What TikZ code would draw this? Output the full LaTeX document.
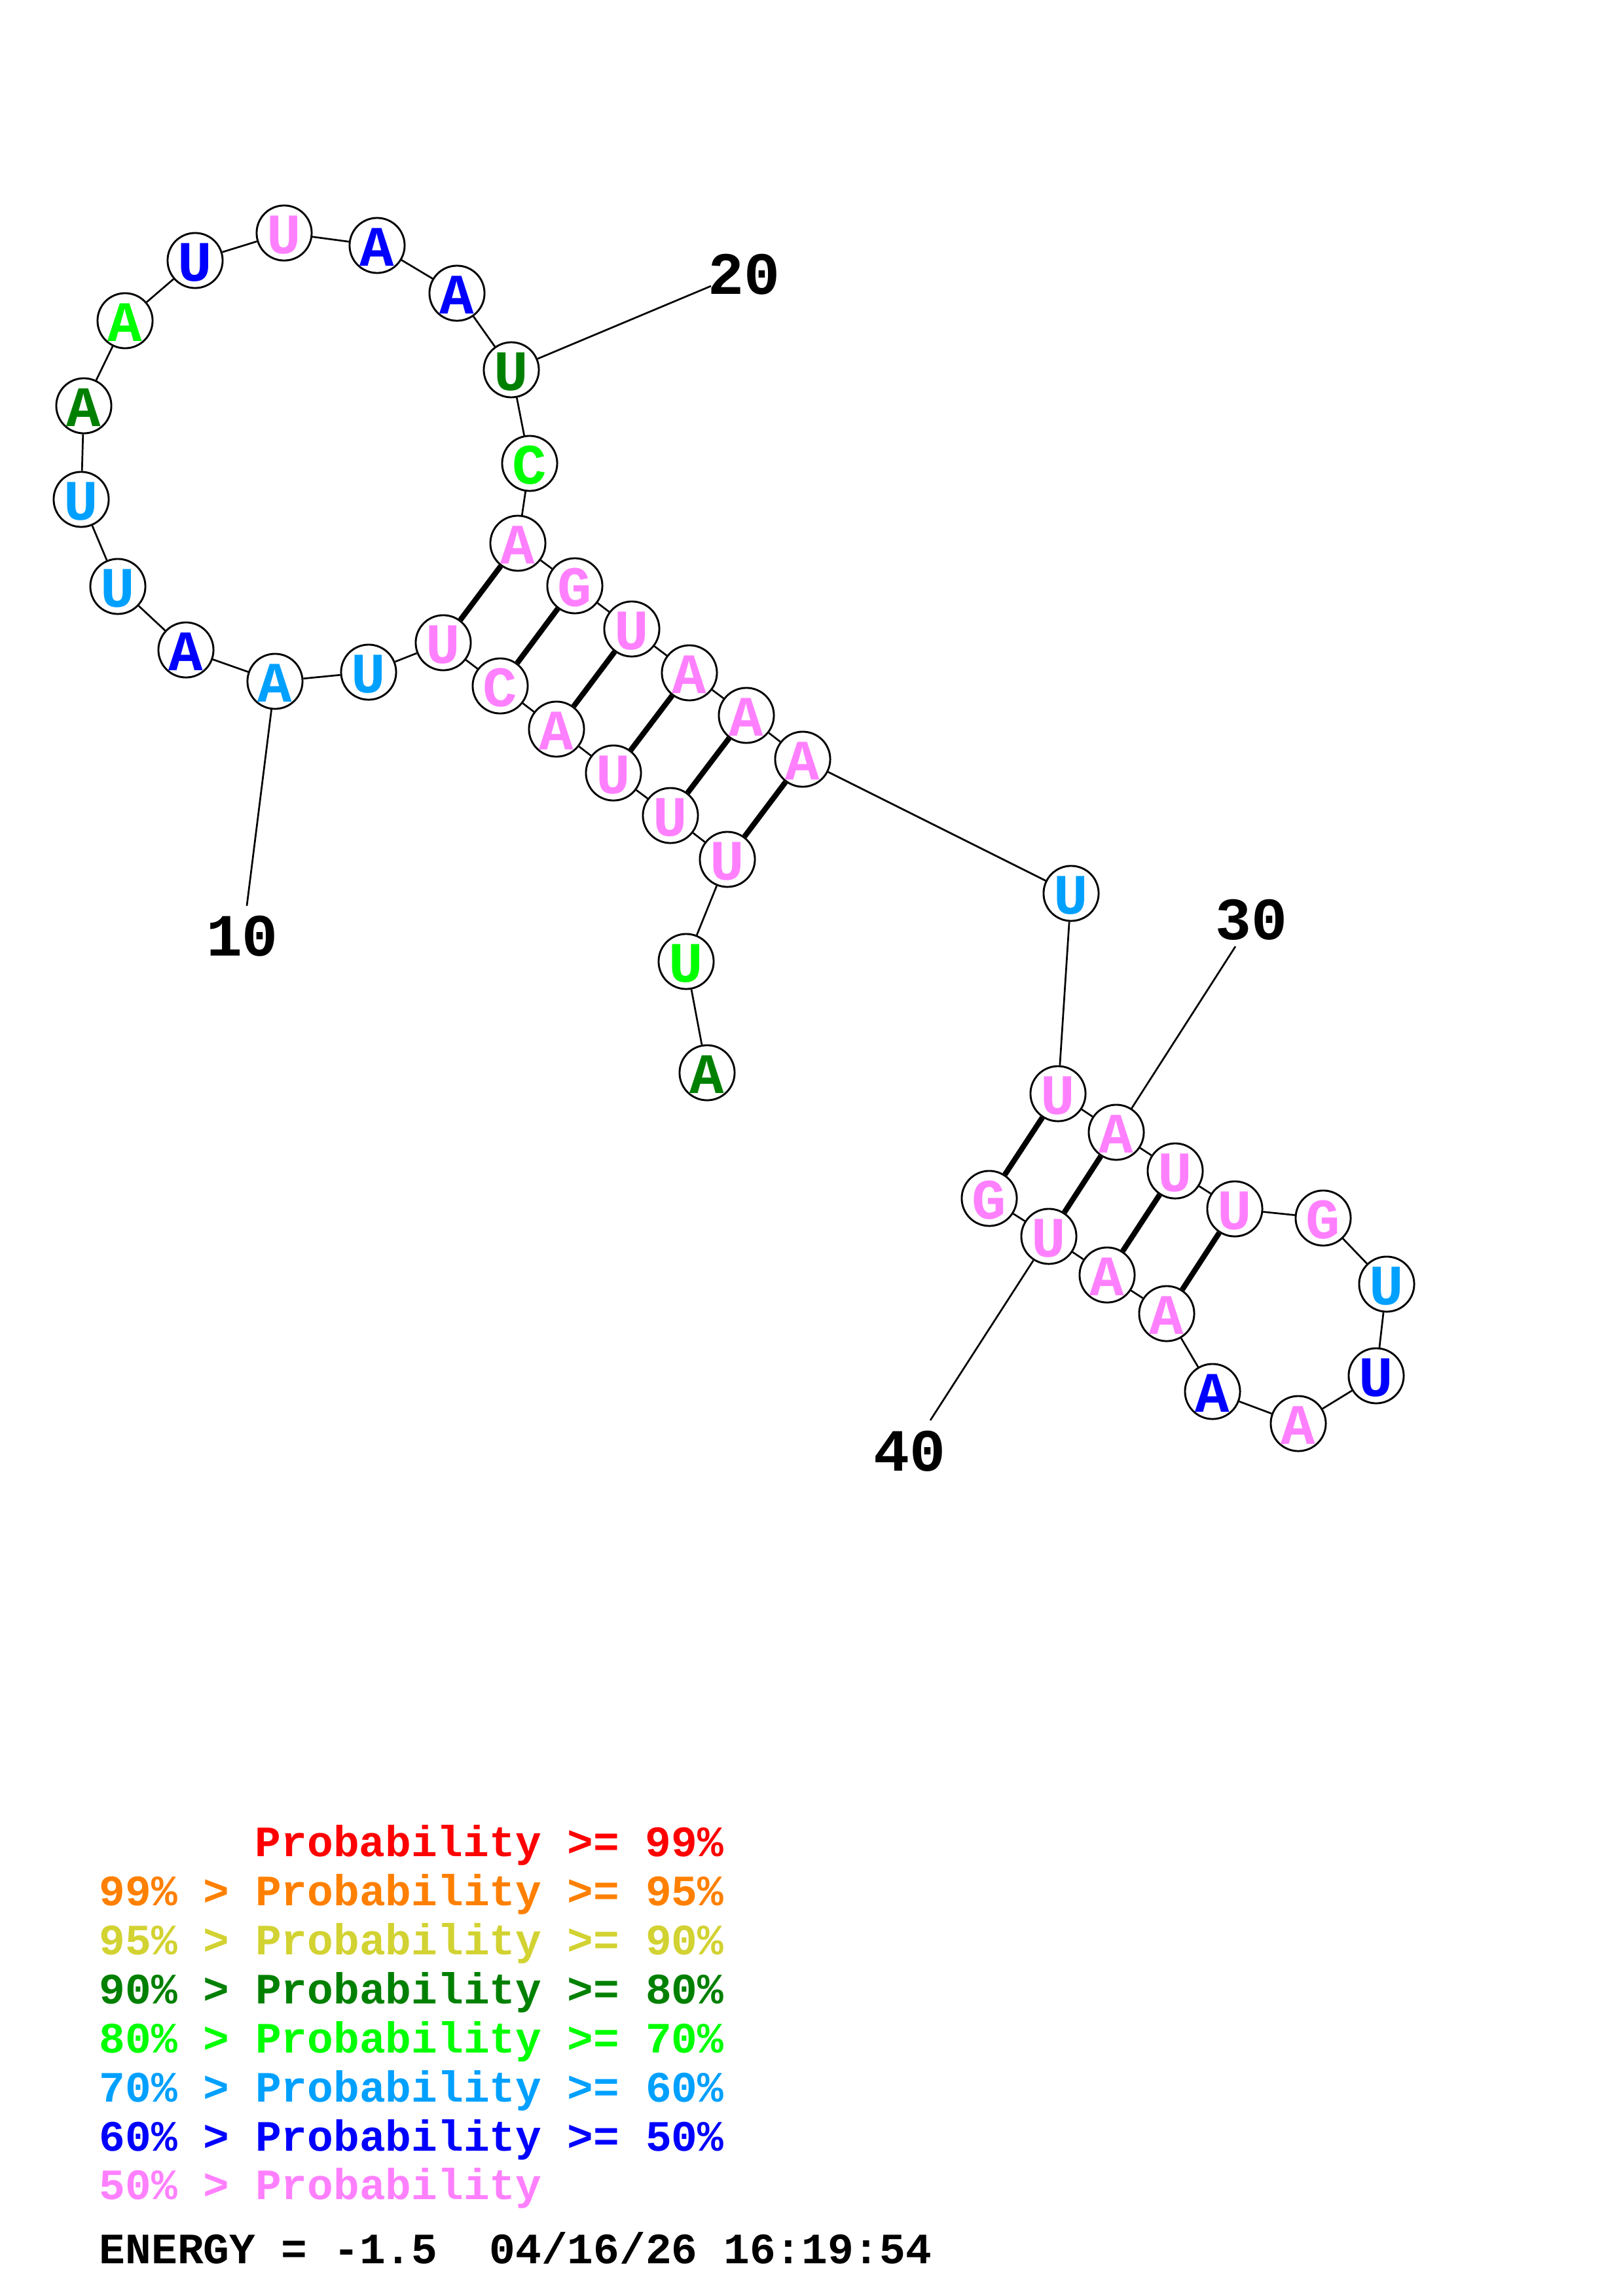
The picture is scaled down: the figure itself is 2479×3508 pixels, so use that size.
\documentclass[tikz,border=0pt]{standalone}
\usepackage{fontspec}
\setmainfont{Liberation Mono}
\definecolor{pinkc}{HTML}{FF80FF}
\definecolor{lblue}{HTML}{00A0FF}
\definecolor{dgreen}{HTML}{008000}
\definecolor{bgreen}{HTML}{00FF00}
\definecolor{blu}{HTML}{0000FF}
\definecolor{redc}{HTML}{FF0000}
\definecolor{orangec}{HTML}{FF8000}
\definecolor{yellowc}{HTML}{D2D232}
\begin{document}
\begin{tikzpicture}[x=0.24013pt,y=-0.24013pt,
  nt/.style={circle,draw=black,fill=white,line width=0.7pt,minimum size=20.2pt,inner sep=0pt,text height=15pt,text depth=0pt,font=\fontsize{21}{21}\selectfont\bfseries},
  bb/.style={line width=0.65pt},
  pr/.style={line width=2pt},
  numlbl/.style={inner sep=0pt,font=\fontsize{22}{22}\selectfont\bfseries},
  leg/.style={anchor=base west,inner sep=0pt,font=\fontsize{15.9}{15.9}\selectfont\bfseries}]
\path[use as bounding box] (0,0) rectangle (2479,3508);
\foreach \i/\x/\y/\l/\c in {
 1/1080/1639/A/dgreen, 2/1048/1469/U/bgreen, 3/1111/1313/U/pinkc, 4/1024/1246/U/pinkc,
 5/937/1181/U/pinkc, 6/850/1114/A/pinkc, 7/764/1048/C/pinkc, 8/677/982/U/pinkc,
 9/563/1027/U/lblue, 10/420/1041/A/lblue, 11/284/993/A/blu, 12/180/896/U/lblue,
 13/124/763/U/lblue, 14/128/620/A/dgreen, 15/191/490/A/bgreen, 16/298/398/U/blu,
 17/434/356/U/pinkc, 18/576/375/A/blu, 19/698/448/A/blu, 20/781/565/U/dgreen,
 21/809/708/C/bgreen, 22/791/830/A/pinkc, 23/878/895/G/pinkc, 24/965/961/U/pinkc,
 25/1053/1028/A/pinkc, 26/1140/1093/A/pinkc, 27/1226/1160/A/pinkc, 28/1636/1365/U/lblue,
 29/1616/1671/U/pinkc, 30/1705/1730/A/pinkc, 31/1795/1789/U/pinkc, 32/1886/1847/U/pinkc,
 33/2021/1861/G/pinkc, 34/2118/1962/U/lblue, 35/2102/2102/U/blu, 36/1983/2175/A/pinkc,
 37/1852/2126/A/blu, 38/1782/2007/A/pinkc, 39/1691/1948/A/pinkc, 40/1602/1889/U/pinkc,
 41/1511/1831/G/pinkc}
 {\node[nt,text=\c] (n\i) at (\x,\y) {\l};}
\foreach \i [count=\j from 2] in {1,...,40} {\draw[bb] (n\i) -- (n\j);}
\foreach \a/\b in {3/27,4/26,5/25,6/24,7/23,8/22,29/41,30/40,31/39,32/38} {\draw[pr] (n\a) -- (n\b);}
% number labels
\node[numlbl] (l10) at (370,1430) {10};
\node[numlbl] (l20) at (1136,419) {20};
\node[numlbl] (l30) at (1911,1405) {30};
\node[numlbl] (l40) at (1389,2217) {40};
\coordinate (c10) at (377,1384);
\coordinate (c20) at (1086,437);
\coordinate (c30) at (1887,1446);
\coordinate (c40) at (1421,2170);
\draw[bb] (c10) -- (n10);
\draw[bb] (c20) -- (n20);
\draw[bb] (c30) -- (n30);
\draw[bb] (c40) -- (n40);
% legend
\node[leg,text=redc] (g1) at (389,2836) {Probability >= 99\%};
\node[leg,text=orangec] (g2) at (151,2911) {99\% > Probability >= 95\%};
\node[leg,text=yellowc] (g3) at (151,2986) {95\% > Probability >= 90\%};
\node[leg,text=dgreen] (g4) at (151,3061) {90\% > Probability >= 80\%};
\node[leg,text=bgreen] (g5) at (151,3136) {80\% > Probability >= 70\%};
\node[leg,text=lblue] (g6) at (151,3211) {70\% > Probability >= 60\%};
\node[leg,text=blu] (g7) at (151,3286) {60\% > Probability >= 50\%};
\node[leg,text=pinkc] (g8) at (151,3360) {50\% > Probability};
\node[leg,text=black] (g9) at (151,3458) {ENERGY = -1.5~~04/16/26 16:19:54};
\end{tikzpicture}
\end{document}
